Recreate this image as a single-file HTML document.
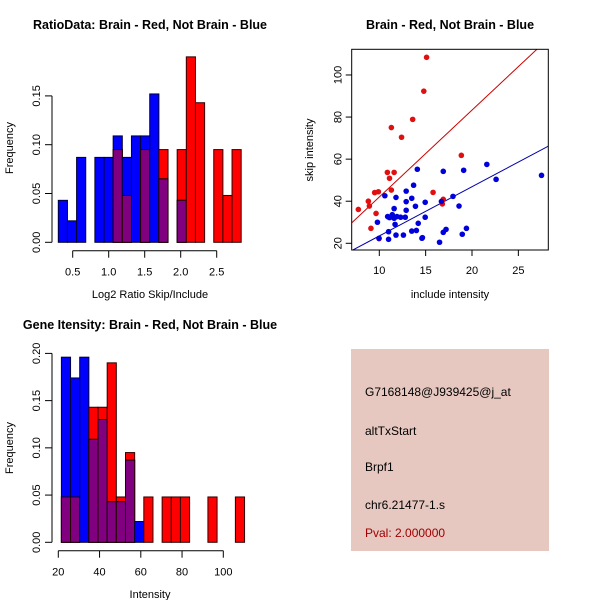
<!DOCTYPE html>
<html><head><meta charset="utf-8"><style>
body{margin:0;background:#fff;}
svg{display:block;font-family:"Liberation Sans",sans-serif;}
</style></head><body>
<svg id="s" width="600" height="600" viewBox="0 0 600 600">
<rect width="600" height="600" fill="#fff"/>
<g id="h1"></g>
<g id="sc"></g>
<g id="h2"></g>
<g>
<rect x="351" y="349" width="198" height="202" fill="#e6c8c0"/>
<text x="365" y="396" font-size="12">G7168148@J939425@j_at</text>
<text x="365" y="435" font-size="12">altTxStart</text>
<text x="365" y="471" font-size="12">Brpf1</text>
<text x="365" y="509" font-size="12">chr6.21477-1.s</text>
<text x="365" y="537" font-size="12" fill="#a00000">Pval: 2.000000</text>
</g>
</svg>
<script>
// ---- Histogram 1 data ----
const ratioBinStart = 0.3;
const ratioBinWidth = 0.127;
const ratioBlue = [0.043,0.022,0.087,0,0.087,0.087,0.109,0.087,0.109,0.109,0.152,0.065,0,0.043,0,0,0,0,0,0];
const ratioRed  = [0,0,0,0,0,0,0.095,0.048,0,0.095,0,0.095,0,0.095,0.19,0.143,0,0.095,0.048,0.095];
const ratioXTicks = [0.5,1.0,1.5,2.0,2.5];
const ratioXLabels = ["0.5","1.0","1.5","2.0","2.5"];
const ratioYTicks = [0,0.05,0.10,0.15];
const ratioYLabels = ["0.00","0.05","0.10","0.15"];
// ---- Histogram 2 data ----
const intBinStart = 21.5;
const intBinWidth = 4.44;
const intBlue = [0.196,0.174,0.196,0.109,0.130,0.043,0.043,0.087,0.022,0,0,0,0,0,0,0,0,0,0,0];
const intRed  = [0.048,0.048,0,0.143,0.143,0.19,0.048,0.095,0,0.048,0,0.048,0.048,0.048,0,0,0.048,0,0,0.048];
const intXTicks = [20,40,60,80,100];
const intXLabels = ["20","40","60","80","100"];
const intYTicks = [0,0.05,0.10,0.15,0.20];
const intYLabels = ["0.00","0.05","0.10","0.15","0.20"];
// ---- Scatter data ----
const redX = [7.74,8.82,8.93,9.1,9.5,9.9,9.65,10.87,11.1,11.3,11.3,11.6,12.4,13.6,14.8,15.1,15.8,16.8,16.9,18.85,9.97];
const redY = [36.1,40.0,37.7,27.1,44.1,44.5,34.2,53.7,50.9,75.0,45.3,53.7,70.4,78.9,92.3,108.4,44.2,38.7,40.9,61.8,22.2];
const blueX = [10.6,9.8,9.97,10.9,11.0,11.0,11.1,11.4,11.6,11.6,11.7,11.8,11.8,11.9,12.3,12.6,12.8,12.9,12.9,12.9,13.5,13.5,13.7,13.9,14.0,14.1,14.2,14.6,14.65,14.95,14.95,16.5,16.7,16.9,16.9,17.2,17.95,18.6,18.95,19.1,19.4,21.6,22.6,27.5];
const blueY = [42.6,30.0,22.4,32.7,21.9,25.5,32.2,33.6,31.9,36.5,29.0,41.8,23.9,32.7,32.4,23.9,32.4,44.8,39.8,35.7,41.4,25.8,47.6,37.6,26.1,55.2,29.5,22.4,22.7,39.5,32.4,20.5,39.9,25.2,54.2,26.6,42.3,37.7,24.3,54.7,27.1,57.5,50.4,52.3];
const redFit = [0.7, 4.13];
const blueFit = [0.1, 2.34];
const scXTicks = [10,15,20,25];
const scYTicks = [20,40,60,80,100];

const NS="http://www.w3.org/2000/svg";
function mk(parent,tag,attrs){const e=document.createElementNS(NS,tag);for(const k in attrs)e.setAttribute(k,attrs[k]);parent.appendChild(e);return e;}
function txt(parent,x,y,s,size,extra){const t=mk(parent,"text",Object.assign({x:x,y:y,"font-size":size,"text-anchor":"middle"},extra||{}));t.textContent=s;return t;}

function hist(g,cfg){
  const X=v=>cfg.x0+(v-cfg.xv0)*cfg.xs;
  const Y=v=>cfg.y0-v*cfg.ys;
  const n=cfg.blue.length;
  for(let i=0;i<n;i++){
    const l=X(cfg.start+i*cfg.bw), r=X(cfg.start+(i+1)*cfg.bw);
    const b=cfg.blue[i], rd=cfg.red[i], m=Math.min(b,rd);
    if(rd>0){const e=mk(g,"rect",{x:l,y:Y(rd),width:r-l,height:Y(0)-Y(rd),fill:"#ff0000",stroke:"#300",
"stroke-width":1});
      
      }
    if(b>0){const e=mk(g,"rect",{x:l,y:Y(b),width:r-l,height:Y(0)-Y(b),fill:"#0000ff",stroke:"#003",
"stroke-width":1});
      
      }
    if(m>0){const e=mk(g,"rect",{x:l,y:Y(m),width:r-l,height:Y(0)-Y(m),fill:"#800080",stroke:"#200",
"stroke-width":1});
      
      }
  }
  // y axis
  const yt=cfg.yt;
  mk(g,"line",{x1:52,x2:52,y1:Y(yt[0]),y2:Y(yt[yt.length-1]),stroke:"#000"});
  yt.forEach((v,i)=>{mk(g,"line",{x1:45,x2:52,y1:Y(v),y2:Y(v),stroke:"#000"});
    const t=txt(g,0,0,cfg.yl[i],11,{transform:`translate(40,${Y(v)}) rotate(-90)`});
    
    });
  // x axis
  const xt=cfg.xt, ay=cfg.axisY;
  mk(g,"line",{x1:X(xt[0]),x2:X(xt[xt.length-1]),y1:ay,y2:ay,stroke:"#000"});
  xt.forEach((v,i)=>{mk(g,"line",{x1:X(v),x2:X(v),y1:ay,y2:ay+7,stroke:"#000"});
    const t=txt(g,X(v),ay+25,cfg.xl[i],11);
    
    });
  const tt=txt(g,150,cfg.titleY,cfg.title,12.5,{"font-weight":"bold"});
  
  
  const xl=txt(g,150,cfg.xlabY,cfg.xlab,11);
  
  
  const yl=txt(g,0,0,"Frequency",11,{transform:`translate(13,${cfg.ylabY}) rotate(-90)`});
  
  
}

hist(document.getElementById("h1"),{x0:72.7,xv0:0.5,xs:72,y0:242.3,ys:976,start:ratioBinStart,bw:ratioBinWidth,
  blue:ratioBlue,red:ratioRed,xt:ratioXTicks,xl:ratioXLabels,yt:ratioYTicks,yl:ratioYLabels,axisY:250.7,
  title:"RatioData: Brain - Red, Not Brain - Blue",titleY:29,xlab:"Log2 Ratio Skip/Include",xlabY:298,ylabY:148});
hist(document.getElementById("h2"),{x0:58.3,xv0:20,xs:2.0625,y0:542.3,ys:944.5,start:intBinStart,bw:intBinWidth,
  blue:intBlue,red:intRed,xt:intXTicks,xl:intXLabels,yt:intYTicks,yl:intYLabels,axisY:550.7,
  title:"Gene Itensity: Brain - Red, Not Brain - Blue",titleY:329,xlab:"Intensity",xlabY:598,ylabY:448});

(function(){
  const g=document.getElementById("sc");
  const L=351.7,R=548.3,T=49.3,B=250;
  const X=v=>379.3+(v-10)*9.27;
  const Y=v=>243.3-(v-20)*2.104;
  const xv=x=>10+(x-379.3)/9.27;
  const cp=mk(g,"clipPath",{id:"scclip"});mk(cp,"rect",{x:L,y:T,width:R-L,height:B-T});
  const inner=mk(g,"g",{"clip-path":"url(#scclip)"});
  [[redFit,"#cc0000"],[blueFit,"#0000aa"]].forEach(([f,c])=>{
    const x1=xv(L),x2=xv(R);
    const e=mk(inner,"line",{x1:L,x2:R,y1:Y(f[0]+f[1]*x1),y2:Y(f[0]+f[1]*x2),stroke:c,"stroke-width":1});
    
    
  });
  redX.forEach((x,i)=>{const e=mk(inner,"circle",{cx:X(x),cy:Y(redY[i]),r:2.8,fill:"#e01010"});
    
    });
  blueX.forEach((x,i)=>{const e=mk(inner,"circle",{cx:X(x),cy:Y(blueY[i]),r:2.8,fill:"#0000dd"});
    
    });
  mk(g,"rect",{x:L,y:T,width:R-L,height:B-T,fill:"none",stroke:"#000"});
  scXTicks.forEach(v=>{mk(g,"line",{x1:X(v),x2:X(v),y1:B,y2:B+6,stroke:"#000"});
    const t=txt(g,X(v),B+24,String(v),11);
    
    });
  scYTicks.forEach(v=>{mk(g,"line",{x1:L-6,x2:L,y1:Y(v),y2:Y(v),stroke:"#000"});
    const t=txt(g,0,0,String(v),11,{transform:`translate(${L-10},${Y(v)}) rotate(-90)`});
    
    });
  const tt=txt(g,450,29,"Brain - Red, Not Brain - Blue",12.5,{"font-weight":"bold"});
  
  
  const xl=txt(g,450,298,"include intensity",11);
  
  
  const yl=txt(g,0,0,"skip intensity",11,{transform:"translate(313,150) rotate(-90)"});
  
  
})();
</script>
</body></html>
